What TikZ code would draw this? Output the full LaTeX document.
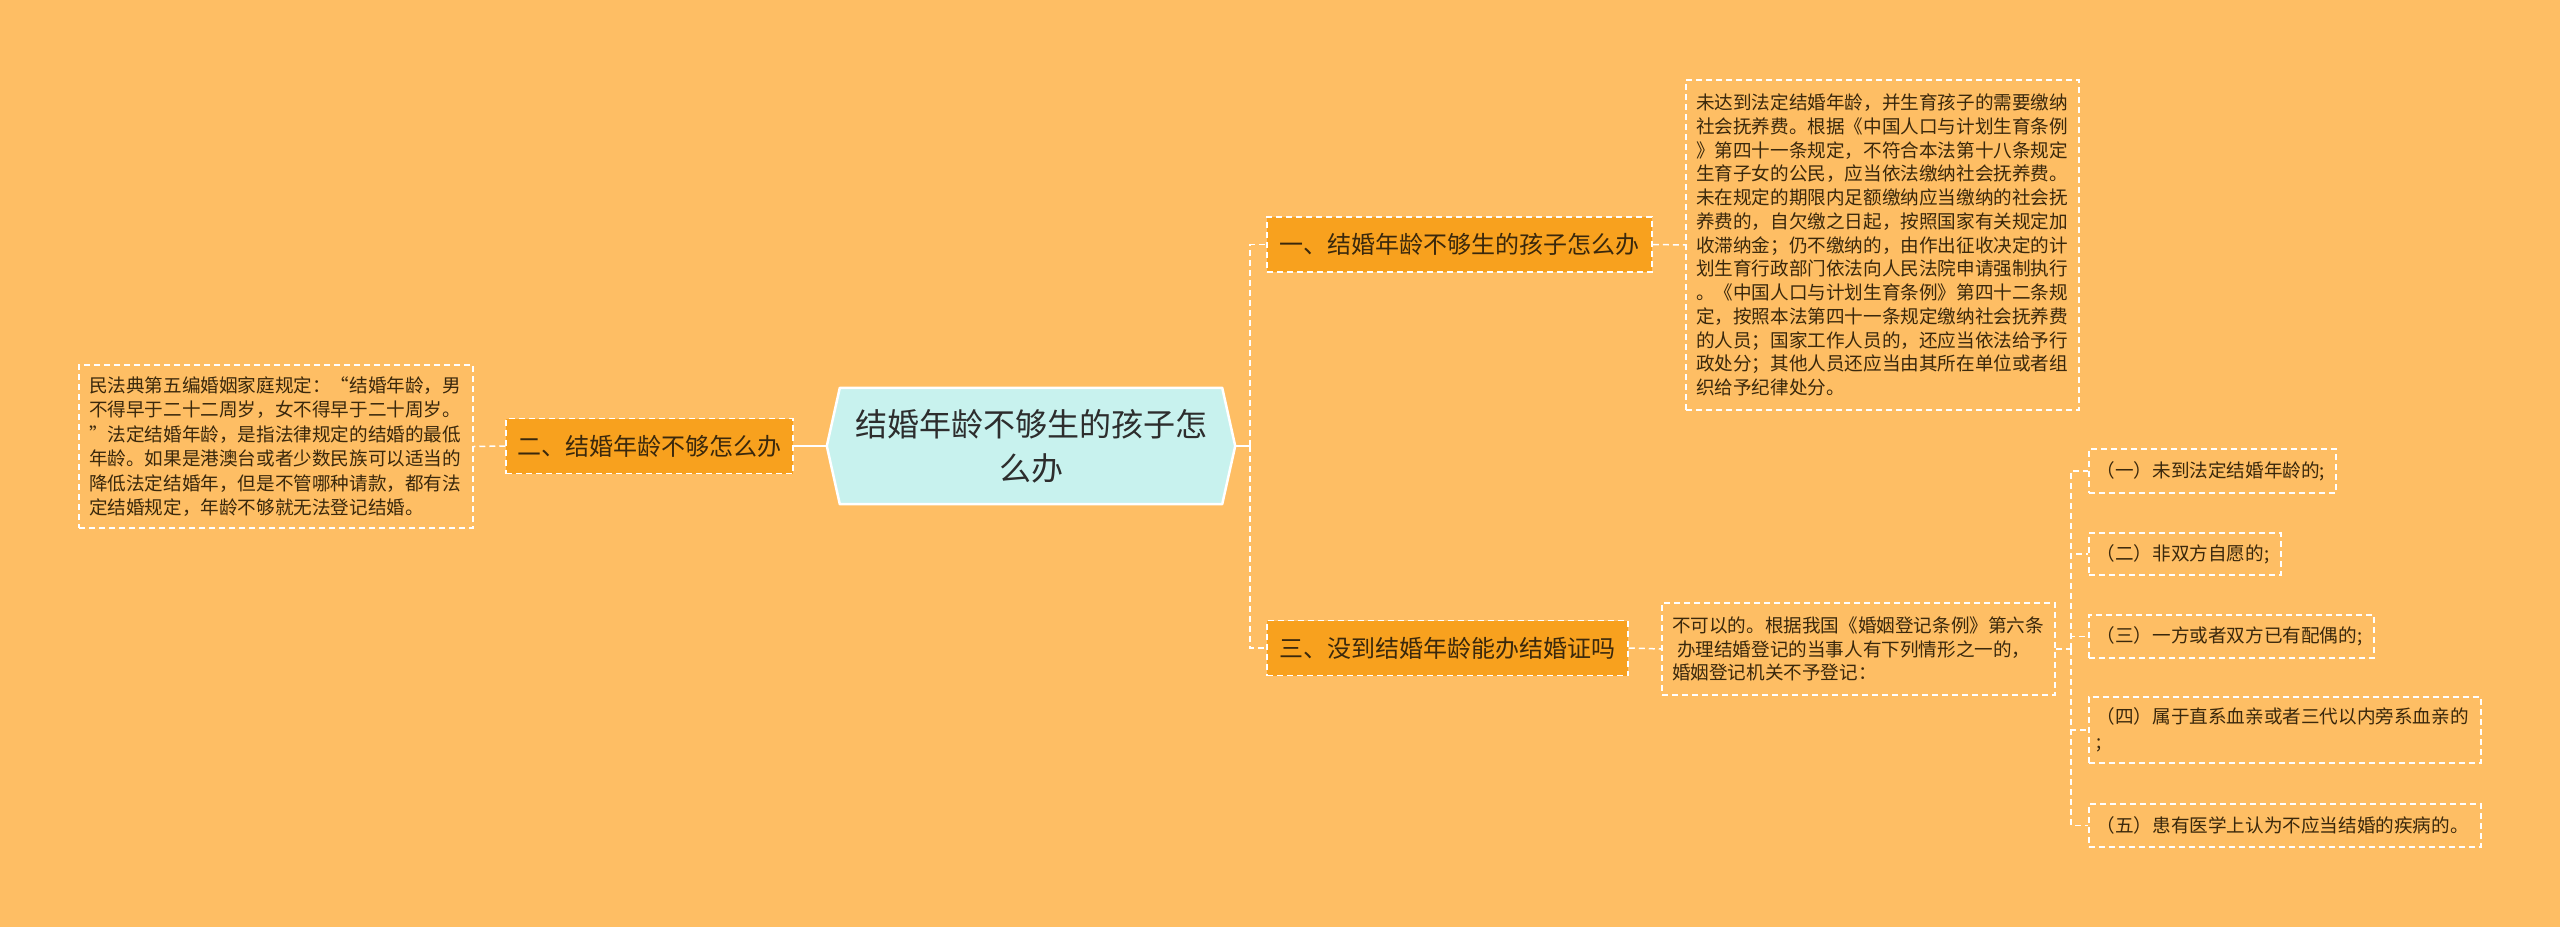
\documentclass[tikz,border=0pt]{standalone}
\usepackage{fontspec}
\newfontfamily\cjk{Noto Sans CJK SC}
\usetikzlibrary{backgrounds,calc}
\definecolor{bg}{RGB}{254,190,100}
\definecolor{brfill}{RGB}{248,161,30}
\definecolor{cfill}{RGB}{200,242,238}
\definecolor{txt}{RGB}{58,40,12}
\definecolor{ctxt}{RGB}{45,45,45}
\tikzset{
  dashline/.style={draw=white, line width=1.5pt, dash pattern=on 6pt off 4pt},
  branchbox/.style={fill=brfill, dashline, inner sep=0pt, font=\cjk\fontsize{24}{30}\selectfont, text=txt, minimum height=55pt},
  leafbox/.style={dashline, inner xsep=10pt, inner ysep=0pt, align=left, text=txt, font=\cjk\fontsize{18.6}{23.75}\selectfont},
  itembox/.style={leafbox, inner xsep=8pt, anchor=west},
  link/.style={dashline},
  solidlink/.style={draw=white, line width=2pt},
}
\begin{document}
\begin{tikzpicture}[x=1pt,y=-1pt]
\begin{scope}[on background layer]
  \fill[bg] (0,0) rectangle (2560,927);
\end{scope}
\useasboundingbox (0,0) rectangle (2560,927);

% central
\node[minimum width=408pt, minimum height=116pt, inner sep=0pt, align=center,
      font=\cjk\fontsize{32}{44}\selectfont, text=ctxt] (c) at (1031,446)
      {结婚年龄不够生的孩子怎\\么办};
\begin{scope}[on background layer]
  \draw[fill=cfill, draw=white, line width=2.5pt, line join=round]
    ($(c.north west)+(13,0)$) -- ($(c.north east)+(-13,0)$) -- (c.east)
    -- ($(c.south east)+(-13,0)$) -- ($(c.south west)+(13,0)$) -- (c.west) -- cycle;
\end{scope}

% branches
\node[branchbox, minimum width=385pt] (b1) at (1459.5,244.5) {一、结婚年龄不够生的孩子怎么办};
\node[branchbox, minimum width=287pt] (b2) at (649.5,446) {二、结婚年龄不够怎么办};
\node[branchbox, minimum width=361pt] (b3) at (1447.5,648) {三、没到结婚年龄能办结婚证吗};

% leaves
\node[leafbox, text width=373pt, minimum height=330pt] (l1) at (1882.5,245) {%
未达到法定结婚年龄，并生育孩子的需要缴纳\\
社会抚养费。根据《中国人口与计划生育条例\\
》第四十一条规定，不符合本法第十八条规定\\
生育子女的公民，应当依法缴纳社会抚养费。\\
未在规定的期限内足额缴纳应当缴纳的社会抚\\
养费的，自欠缴之日起，按照国家有关规定加\\
收滞纳金；仍不缴纳的，由作出征收决定的计\\
划生育行政部门依法向人民法院申请强制执行\\
。《中国人口与计划生育条例》第四十二条规\\
定，按照本法第四十一条规定缴纳社会抚养费\\
的人员；国家工作人员的，还应当依法给予行\\
政处分；其他人员还应当由其所在单位或者组\\
织给予纪律处分。};

\node[leafbox, text width=374pt, minimum height=163pt,
      font=\cjk\fontsize{18.6}{24.4}\selectfont] (l2) at (276,446.5) {%
民法典第五编婚姻家庭规定：“结婚年龄，男\\
不得早于二十二周岁，女不得早于二十周岁。\\
”法定结婚年龄，是指法律规定的结婚的最低\\
年龄。如果是港澳台或者少数民族可以适当的\\
降低法定结婚年，但是不管哪种请款，都有法\\
定结婚规定，年龄不够就无法登记结婚。};

\node[leafbox, text width=373pt, minimum height=92pt,
      font=\cjk\fontsize{18.6}{23.5}\selectfont] (l3) at (1858.5,649) {%
不可以的。根据我国《婚姻登记条例》第六条\\
\hspace*{5pt}办理结婚登记的当事人有下列情形之一的，\\
婚姻登记机关不予登记：};

% items
\node[itembox, text width=231pt, minimum height=44pt] (i1) at (2088,471) {（一）未到法定结婚年龄的;};
\node[itembox, text width=176pt, minimum height=42pt] (i2) at (2088,554) {（二）非双方自愿的;};
\node[itembox, text width=269pt, minimum height=43pt] (i3) at (2088,636.5) {（三）一方或者双方已有配偶的;};
\node[itembox, text width=376pt, minimum height=66pt,
      font=\cjk\fontsize{18.6}{25}\selectfont] (i4) at (2088,730) {（四）属于直系血亲或者三代以内旁系血亲的\\;};
\node[itembox, text width=376pt, minimum height=43pt] (i5) at (2088,825.5) {（五）患有医学上认为不应当结婚的疾病的。};

% connectors
\draw[solidlink] (b2.east) -- (c.west);
\coordinate (j1) at (1250,446);
\draw[solidlink] (c.east) -- (j1);
\draw[link] (j1) |- (b1.west);
\draw[link] (j1) |- (b3.west);
\draw[link] (b1.east) -- (l1.west);
\draw[link] (b2.west) -- (l2.east);
\draw[link] (b3.east) -- (l3.west);
\coordinate (j2) at (2071,649);
\draw[link] (l3.east) -- (j2);
\draw[link] (j2) |- (i1.west);
\draw[link] (j2) |- (i2.west);
\draw[link] (j2) |- (i3.west);
\draw[link] (j2) |- (i4.west);
\draw[link] (j2) |- (i5.west);
\end{tikzpicture}
\end{document}
